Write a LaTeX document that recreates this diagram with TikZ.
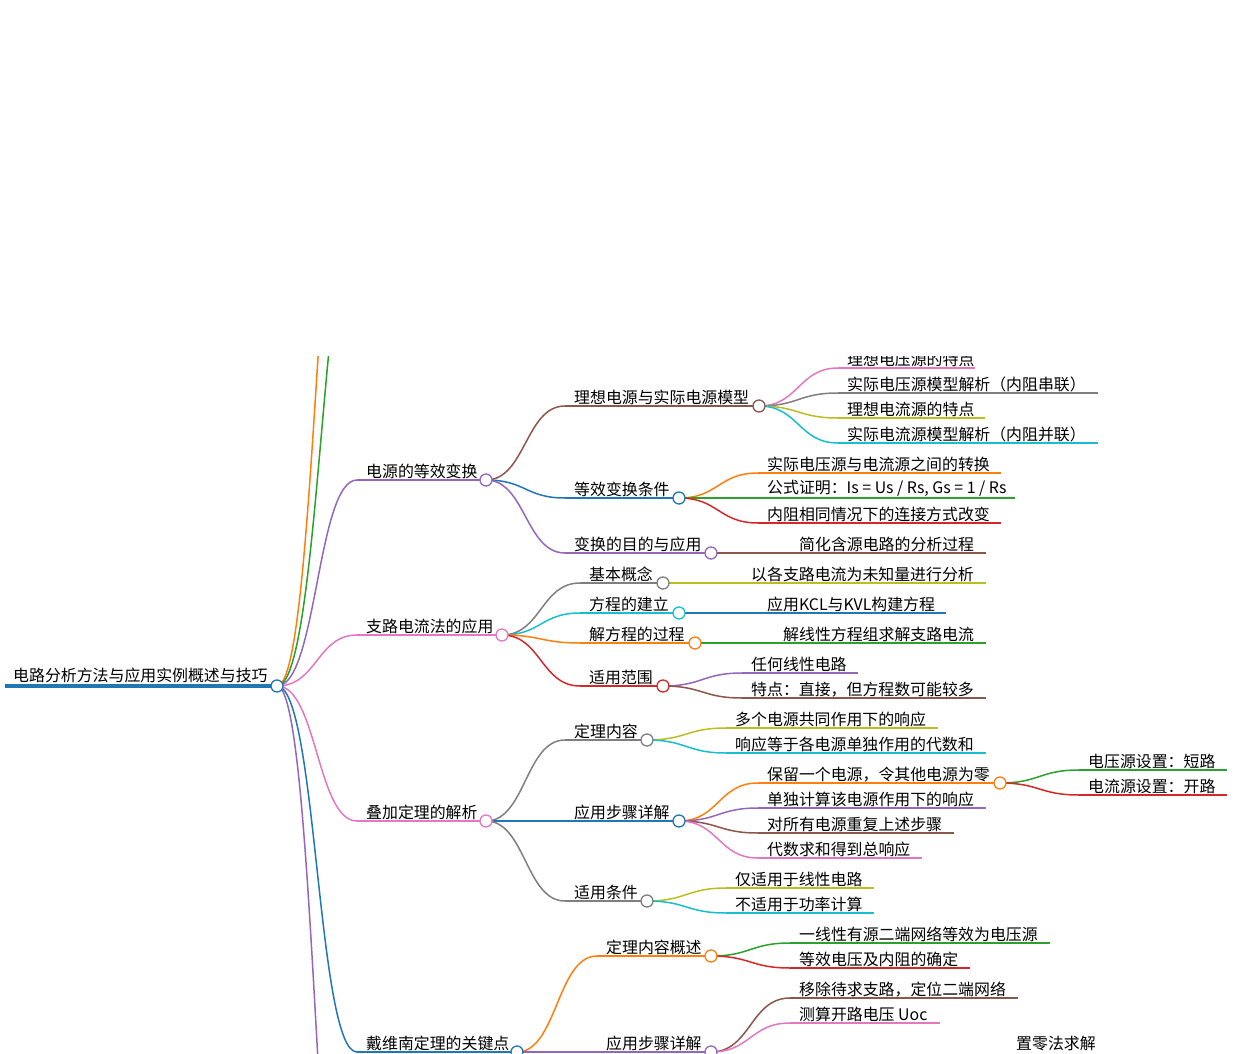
\documentclass[tikz,border=0pt]{standalone}
\usepackage{fontspec}
\setmainfont{Noto Sans CJK SC}
\usetikzlibrary{calc}

\definecolor{mblue}{HTML}{1F77B4}
\definecolor{morange}{HTML}{FF7F0E}
\definecolor{mgreen}{HTML}{2CA02C}
\definecolor{mred}{HTML}{D62728}
\definecolor{mpurple}{HTML}{9467BD}
\definecolor{mbrown}{HTML}{8C564B}
\definecolor{mpink}{HTML}{E377C2}
\definecolor{mgray}{HTML}{7F7F7F}
\definecolor{molive}{HTML}{BCBD22}
\definecolor{mcyan}{HTML}{17BECF}

% #1 from, #2 to, #3 colour
\newcommand\link[3]{%
	\draw[edge,#3] let \p1=(#1), \p2=(#2) in
		(\p1) .. controls ({(\x1+\x2)/2},\y1) and ({(\x1+\x2)/2},\y2) .. (\p2);
}
% #1 name, #2 parent, #3 x start, #4 x end, #5 y, #6 colour, #7 text
\newcommand\branch[7]{%
	\coordinate (#1-s) at (#3,#5);
	\coordinate (#1) at (#4,#5);
	\link{#2}{#1-s}{#6}
	\draw[edge,#6] (#1-s) -- (#1);
	\node[word] (#1-t) at ([xshift=8]#1-s) {#7};
}
\newcommand\knot[2]{\node[knob,draw=#2] at (#1) {};}

\begin{document}
\begin{tikzpicture}
	[
		x=1pt, y=-1pt,
		edge/.style = {line width=1.5pt},
		word/.style = {anchor=south west, inner sep=1pt, font=\fontsize{15.9}{18}\selectfont},
		knob/.style = {circle, fill=white, line width=1.3pt, minimum size=12pt, inner sep=0pt}
	]
	\useasboundingbox (0,0) rectangle (1256,1054);
	\clip (0,356) rectangle (1256,1054);
	
	\coordinate (root) at (277,686);
	\draw[mblue, line width=4pt] (5,686) -- (root);
	\node[word] (root-t) at (12,684) {电路分析方法与应用实例概述与技巧};
	
	% branches leaving the visible part
	\coordinate (up1) at (357,60);
	\coordinate (up2) at (366,180);
	\coordinate (down1) at (357,1400);
	\link{root}{up1}{morange}
	\link{root}{up2}{mgreen}
	\link{root}{down1}{mpurple}
	
	% first level
	\branch{src}{root}{357}{486}{480}{mpurple}{电源的等效变换}
	\branch{kcl}{root}{357}{502}{635}{mpink}{支路电流法的应用}
	\branch{sup}{root}{357}{486}{821}{mpink}{叠加定理的解析}
	\branch{thv}{root}{357}{517}{1052}{mblue}{戴维南定理的关键点}
	
	% power sources
	\branch{mod}{src}{565}{759}{406}{mbrown}{理想电源与实际电源模型}
	\branch{cond}{src}{565}{679}{498}{mblue}{等效变换条件}
	\branch{aim}{src}{565}{711}{553}{mpurple}{变换的目的与应用}
	\branch{m1}{mod}{838}{975}{368}{mpink}{理想电压源的特点}
	\branch{m2}{mod}{838}{1098}{393}{mgray}{实际电压源模型解析（内阻串联）}
	\branch{m3}{mod}{838}{985}{418}{molive}{理想电流源的特点}
	\branch{m4}{mod}{838}{1098}{443}{mcyan}{实际电流源模型解析（内阻并联）}
	\branch{c1}{cond}{758}{1001}{473}{morange}{实际电压源与电流源之间的转换}
	\branch{c2}{cond}{758}{1015}{498}{mgreen}{公式证明：Is = Us / Rs, Gs = 1 / Rs}
	\branch{c3}{cond}{758}{1001}{523}{mred}{内阻相同情况下的连接方式改变}
	\branch{a1}{aim}{790}{986}{553}{mbrown}{简化含源电路的分析过程}
	
	% branch currents
	\branch{bas}{kcl}{580}{663}{583}{mgray}{基本概念}
	\branch{eqn}{kcl}{580}{679}{613}{mcyan}{方程的建立}
	\branch{sol}{kcl}{580}{695}{643}{morange}{解方程的过程}
	\branch{rng}{kcl}{580}{663}{686}{mred}{适用范围}
	\branch{b1}{bas}{742}{986}{583}{molive}{以各支路电流为未知量进行分析}
	\branch{e1}{eqn}{758}{946}{613}{mblue}{应用KCL与KVL构建方程}
	\branch{s1}{sol}{774}{986}{643}{mgreen}{解线性方程组求解支路电流}
	\branch{r1}{rng}{742}{858}{673}{mpurple}{任何线性电路}
	\branch{r2}{rng}{742}{986}{698}{mbrown}{特点：直接，但方程数可能较多}
	
	% superposition
	\branch{cnt}{sup}{565}{647}{740}{mgray}{定理内容}
	\branch{stp}{sup}{565}{679}{821}{mblue}{应用步骤详解}
	\branch{use}{sup}{565}{647}{901}{mgray}{适用条件}
	\branch{t1}{cnt}{726}{938}{728}{molive}{多个电源共同作用下的响应}
	\branch{t2}{cnt}{726}{986}{753}{mcyan}{响应等于各电源单独作用的代数和}
	\branch{p1}{stp}{758}{1000}{783}{morange}{保留一个电源，令其他电源为零}
	\branch{p2}{stp}{758}{986}{808}{mpurple}{单独计算该电源作用下的响应}
	\branch{p3}{stp}{758}{954}{833}{mbrown}{对所有电源重复上述步骤}
	\branch{p4}{stp}{758}{922}{858}{mpink}{代数求和得到总响应}
	\branch{q1}{p1}{1079}{1227}{770}{mgreen}{电压源设置：短路}
	\branch{q2}{p1}{1079}{1227}{795}{mred}{电流源设置：开路}
	\branch{u1}{use}{726}{874}{888}{molive}{仅适用于线性电路}
	\branch{u2}{use}{726}{874}{913}{mcyan}{不适用于功率计算}
	
	% Thevenin
	\branch{tc}{thv}{597}{711}{956}{morange}{定理内容概述}
	\branch{ts}{thv}{597}{711}{1052}{mpurple}{应用步骤详解}
	\branch{v1}{tc}{790}{1050}{943}{mgreen}{一线性有源二端网络等效为电压源}
	\branch{v2}{tc}{790}{970}{968}{mred}{等效电压及内阻的确定}
	\branch{w1}{ts}{790}{1018}{998}{mbrown}{移除待求支路，定位二端网络}
	\branch{w2}{ts}{790}{940}{1023}{mpink}{测算开路电压 Uoc}
	\node[word] (w3-t) at (1015,1052) {置零法求解};
	
	% circles on top
	\knot{root}{mblue}
	\knot{src}{mpurple}
	\knot{kcl}{mpink}
	\knot{sup}{mpink}
	\knot{thv}{mblue}
	\knot{mod}{mbrown}
	\knot{cond}{mblue}
	\knot{aim}{mpurple}
	\knot{bas}{mgray}
	\knot{eqn}{mcyan}
	\knot{sol}{morange}
	\knot{rng}{mred}
	\knot{cnt}{mgray}
	\knot{stp}{mblue}
	\knot{use}{mgray}
	\knot{p1}{morange}
	\knot{tc}{morange}
	\knot{ts}{mpurple}
	
\end{tikzpicture}
\end{document}
